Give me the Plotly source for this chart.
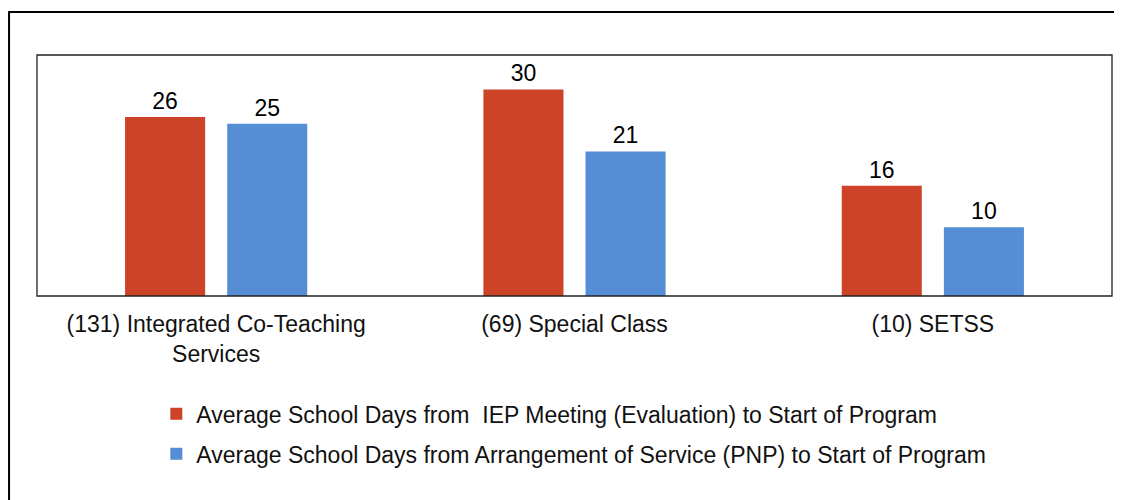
import plotly.graph_objects as go

categories = ["(131) Integrated Co-Teaching<br>Services", "(69) Special Class", "(10) SETSS"]
iep_days = [26, 30, 16]
pnp_days = [25, 21, 10]
series_names = [
    "Average School Days from \u00a0IEP Meeting (Evaluation) to Start of Program",
    "Average School Days from Arrangement of Service (PNP) to Start of Program",
]
colors = ["#CC4328", "#558ED5"]

FONT = "Liberation Sans, Arial, sans-serif"
FS = 23

fig = go.Figure()
for name, vals, col, grp in [(series_names[0], iep_days, colors[0], "a"),
                             (series_names[1], pnp_days, colors[1], "b")]:
    fig.add_trace(go.Bar(
        x=categories, y=vals, name=name, legendgroup=grp,
        marker=dict(color=col, line=dict(width=0)),
        text=[str(v) for v in vals], textposition="outside",
        textfont=dict(family=FONT, size=FS, color="black"),
        cliponaxis=False,
    ))

fig.update_layout(
    width=1114, height=492,
    margin=dict(l=29, r=10, t=47, b=203.5),
    paper_bgcolor="white", plot_bgcolor="white",
    font=dict(family=FONT, size=FS, color="black"),
    barmode="group", bargap=0.43, bargroupgap=0.216,
    showlegend=True,
    legend=dict(x=0.111, y=-0.40, xanchor="left", yanchor="top",
                orientation="v", tracegroupgap=7,
                font=dict(family=FONT, size=FS, color="#111"),
                bgcolor="rgba(0,0,0,0)", itemwidth=30),
    xaxis=dict(showgrid=False, showline=False, ticks="", zeroline=False,
               ticklabelstandoff=12,
               tickfont=dict(family=FONT, size=FS, color="#111")),
    yaxis=dict(range=[0, 35], visible=False, showgrid=False, zeroline=False),
    shapes=[
        dict(type="rect", xref="paper", yref="paper", x0=0, x1=1, y0=0, y1=1,
             line=dict(color="#222", width=1.3), fillcolor="rgba(0,0,0,0)", layer="above"),
        dict(type="rect", xref="paper", yref="paper", x0=-0.026, x1=1.05, y0=-1.2, y1=1.178,
             line=dict(color="black", width=2), fillcolor="rgba(0,0,0,0)"),
    ],
)

fig.write_html("out.html")
